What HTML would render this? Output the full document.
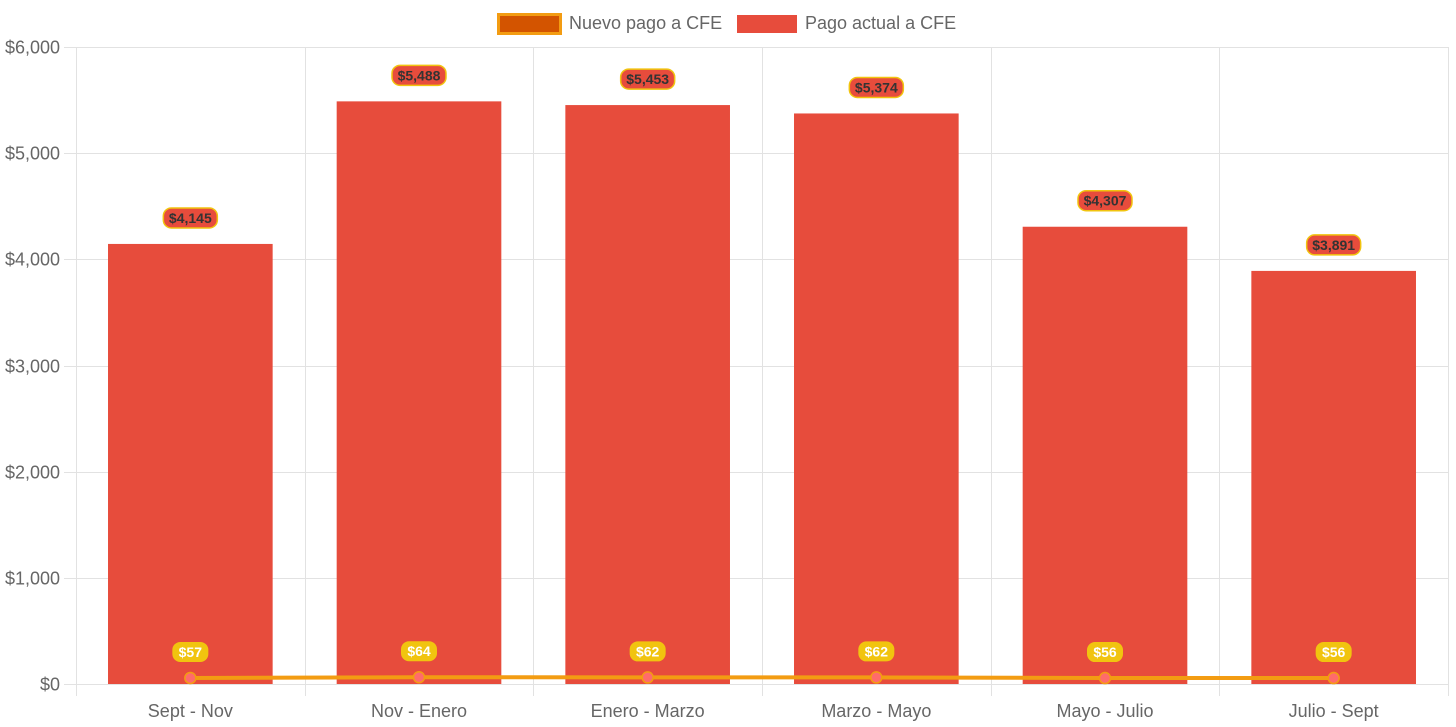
<!DOCTYPE html>
<html><head><meta charset="utf-8"><style>
body{margin:0;background:#fff;}
svg{display:block;font-family:"Liberation Sans",Arial,sans-serif;}
</style></head><body>
<svg id="c" width="1456" height="727">
<g id="legend">
  <g>
    <rect x="498.5" y="14.5" width="62" height="19" fill="#d35400" stroke="#f39c12" stroke-width="3"/>
    <text x="569" y="29" font-size="18" fill="#666">Nuevo pago a CFE</text>
  </g>
  <g>
    <rect x="737" y="15" width="60" height="18" fill="#e74c3c"/>
    <text x="805" y="29" font-size="18" fill="#666">Pago actual a CFE</text>
  </g>
</g>
<g id="grid"></g>
<g id="bars"></g>
<g id="line"></g>
<g id="labels"></g>
</svg>
<script>
const categories = ["Sept - Nov","Nov - Enero","Enero - Marzo","Marzo - Mayo","Mayo - Julio","Julio - Sept"];
const actualValues = [4145,5488,5453,5374,4307,3891];
const nuevoValues = [57,64,62,62,56,56];
const yTicks = [0,1000,2000,3000,4000,5000,6000];
const yMax = 6000;

const NS="http://www.w3.org/2000/svg";
const L=76,R=1448,T=47,B=684;
const bw=(R-L)/categories.length;
const y=v=>B-(v/yMax)*(B-T);
const xc=i=>L+bw*(i+0.5);
const fmt=v=>"$"+v.toLocaleString("en-US");
function mk(tag,attrs,parent,txt){const e=document.createElementNS(NS,tag);for(const k in attrs)e.setAttribute(k,attrs[k]);if(txt!==undefined)e.textContent=txt;parent.appendChild(e);return e;}
const grid=document.getElementById("grid"),bars=document.getElementById("bars"),line=document.getElementById("line"),labels=document.getElementById("labels");

yTicks.forEach(t=>{
  const yy=Math.round(y(t))+0.5;
  const g=mk("line",{x1:64,x2:R,y1:yy,y2:yy,stroke:"#e2e2e2","stroke-width":1},grid);
  
  
  const tx=mk("text",{x:60,y:yy+6,"text-anchor":"end","font-size":18,fill:"#666"},grid,fmt(t));
  
  
});
for(let i=0;i<=categories.length;i++){
  const xx=Math.round(L+bw*i)+0.5;
  const g=mk("line",{x1:xx,x2:xx,y1:T,y2:B+12,stroke:"#e2e2e2","stroke-width":1},grid);
  
  
}
categories.forEach((c,i)=>{
  const tx=mk("text",{x:xc(i),y:717,"text-anchor":"middle","font-size":18,fill:"#666"},grid,c);
  
  
});
const barW=bw*0.72;
actualValues.forEach((v,i)=>{
  const r=mk("rect",{x:xc(i)-barW/2,y:y(v),width:barW,height:B-y(v),fill:"#e74c3c"},bars);
  
  
  const g=mk("g",{},labels);
  
  
  const cy=y(v)-26;
  mk("rect",{x:xc(i)-27,y:cy-10,width:54,height:20,rx:8,fill:"#e74c3c",stroke:"#f1c40f","stroke-width":1.5},g);
  mk("text",{x:xc(i),y:cy+5,"text-anchor":"middle","font-size":14,"font-weight":"bold",fill:"#333"},g,fmt(v));
});
const pts=nuevoValues.map((v,i)=>xc(i)+","+y(v)).join(" ");
const pl=mk("polyline",{points:pts,fill:"none",stroke:"#f39c12","stroke-width":4},line);


nuevoValues.forEach((v,i)=>{
  const p=mk("circle",{cx:xc(i),cy:y(v),r:5.5,fill:"#ff6b6b",stroke:"#f39c12","stroke-width":1.5},line);
  
  
  const g=mk("g",{},labels);
  
  
  const cy=y(v)-26;
  mk("rect",{x:xc(i)-18,y:cy-10,width:36,height:20,rx:8,fill:"#f1c40f"},g);
  mk("text",{x:xc(i),y:cy+5,"text-anchor":"middle","font-size":14,"font-weight":"bold",fill:"#fff"},g,fmt(v));
});
</script>
</body></html>
